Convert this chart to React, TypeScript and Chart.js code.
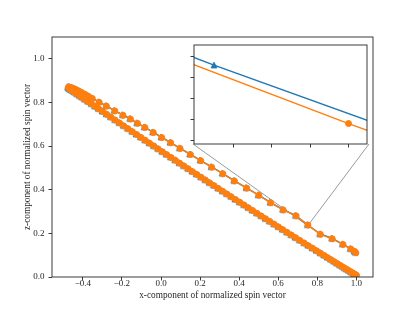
import { useEffect, useRef } from 'react';
import { Chart, registerables } from 'chart.js';

Chart.register(...registerables);

// ---------------- data ----------------
const BLUE_X = [
  0.997, 0.993, 0.988, 0.982, 0.975, 0.967, 0.958, 0.948, 0.937, 0.925,
  0.912, 0.898, 0.883, 0.867, 0.850, 0.832, 0.813, 0.793, 0.772, 0.751,
  0.730, 0.708, 0.686, 0.664, 0.642, 0.620, 0.598, 0.576, 0.554, 0.532,
  0.510, 0.488, 0.466, 0.444, 0.422, 0.400, 0.378, 0.356, 0.334, 0.312,
  0.290, 0.268, 0.246, 0.224, 0.202, 0.180, 0.158, 0.136, 0.114, 0.092,
  0.070, 0.048, 0.026, 0.004, -0.018, -0.040, -0.062, -0.084, -0.106, -0.128,
  -0.150, -0.172, -0.194, -0.216, -0.238, -0.260, -0.281, -0.302, -0.322, -0.341,
  -0.359, -0.376, -0.392, -0.407, -0.420, -0.432, -0.443, -0.452, -0.459, -0.465,
  -0.469, -0.472,
  -0.476, -0.478, -0.475, -0.470, -0.462, -0.452, -0.440, -0.426, -0.410, -0.393,
  -0.375, -0.355, -0.320, -0.283, -0.240, -0.198, -0.160, -0.124, -0.086, -0.043,
  0.000, 0.046, 0.094, 0.147, 0.200, 0.256, 0.313, 0.372, 0.435, 0.497,
  0.558, 0.622, 0.688, 0.7485, 0.812, 0.873, 0.928, 0.968, 0.988, 0.994,
];
const BLUE_Z = [
  0.0106, 0.0128, 0.0155, 0.0188, 0.0226, 0.0270, 0.0319, 0.0374, 0.0434, 0.0500,
  0.0572, 0.0649, 0.0731, 0.0819, 0.0913, 0.1013, 0.1118, 0.1229, 0.1346, 0.1462,
  0.1580, 0.1703, 0.1826, 0.1949, 0.2073, 0.2197, 0.2321, 0.2446, 0.2570, 0.2695,
  0.2820, 0.2946, 0.3071, 0.3197, 0.3323, 0.3450, 0.3577, 0.3704, 0.3831, 0.3958,
  0.4086, 0.4214, 0.4342, 0.4470, 0.4598, 0.4727, 0.4856, 0.4985, 0.5115, 0.5245,
  0.5375, 0.5505, 0.5635, 0.5766, 0.5897, 0.6028, 0.6160, 0.6291, 0.6423, 0.6556,
  0.6688, 0.6821, 0.6954, 0.7087, 0.7220, 0.7354, 0.7481, 0.7609, 0.7732, 0.7848,
  0.7958, 0.8063, 0.8160, 0.8253, 0.8333, 0.8407, 0.8475, 0.8530, 0.8574, 0.8611,
  0.8636, 0.8654,
  0.8690, 0.8718, 0.8730, 0.8725, 0.8705, 0.8672, 0.8625, 0.8563, 0.8488, 0.8403,
  0.8312, 0.8210, 0.8035, 0.7860, 0.7640, 0.7440, 0.7270, 0.7070, 0.6880, 0.6650,
  0.6420, 0.6180, 0.5920, 0.5640, 0.5360, 0.5060, 0.4760, 0.4430, 0.4100, 0.3770,
  0.3430, 0.3100, 0.2830, 0.2406, 0.1984, 0.1780, 0.1520, 0.1310, 0.1200, 0.1140,
];
const ORANGE_X = [
  1.0005, 0.9965, 0.9915, 0.9855, 0.9785, 0.9705, 0.9615, 0.9515, 0.9405, 0.9285,
  0.9155, 0.9015, 0.8865, 0.8705, 0.8535, 0.8355, 0.8165, 0.7965, 0.7755, 0.7545,
  0.7335, 0.7115, 0.6895, 0.6675, 0.6455, 0.6235, 0.6015, 0.5795, 0.5575, 0.5355,
  0.5135, 0.4915, 0.4695, 0.4475, 0.4255, 0.4035, 0.3815, 0.3595, 0.3375, 0.3155,
  0.2935, 0.2715, 0.2495, 0.2275, 0.2055, 0.1835, 0.1615, 0.1395, 0.1175, 0.0955,
  0.0735, 0.0515, 0.0295, 0.0075, -0.0145, -0.0365, -0.0585, -0.0805, -0.1025, -0.1245,
  -0.1465, -0.1685, -0.1905, -0.2125, -0.2345, -0.2565, -0.2775, -0.2985, -0.3185, -0.3375,
  -0.3555, -0.3725, -0.3885, -0.4035, -0.4165, -0.4285, -0.4395, -0.4485, -0.4555, -0.4615,
  -0.4655, -0.4685,
  -0.4725, -0.4745, -0.4715, -0.4665, -0.4585, -0.4485, -0.4365, -0.4225, -0.4065, -0.3895,
  -0.3715, -0.3515, -0.3165, -0.2795, -0.2365, -0.1945, -0.1565, -0.1205, -0.0825, -0.0395,
  0.0035, 0.0495, 0.0975, 0.1505, 0.2035, 0.2595, 0.3165, 0.3755, 0.4385, 0.5005,
  0.5615, 0.6255, 0.6915, 0.7520, 0.8155, 0.8765, 0.9315, 0.9715, 0.9915, 0.9975,
];
const ORANGE_Z = [
  0.0078, 0.0100, 0.0127, 0.0160, 0.0198, 0.0242, 0.0291, 0.0346, 0.0406, 0.0472,
  0.0544, 0.0621, 0.0703, 0.0791, 0.0885, 0.0985, 0.1090, 0.1201, 0.1318, 0.1434,
  0.1552, 0.1675, 0.1798, 0.1921, 0.2045, 0.2169, 0.2293, 0.2418, 0.2542, 0.2667,
  0.2792, 0.2918, 0.3043, 0.3169, 0.3295, 0.3422, 0.3549, 0.3676, 0.3803, 0.3930,
  0.4058, 0.4186, 0.4314, 0.4442, 0.4570, 0.4699, 0.4828, 0.4957, 0.5087, 0.5217,
  0.5347, 0.5477, 0.5607, 0.5738, 0.5869, 0.6000, 0.6132, 0.6263, 0.6395, 0.6528,
  0.6660, 0.6793, 0.6926, 0.7059, 0.7192, 0.7326, 0.7453, 0.7581, 0.7704, 0.7820,
  0.7930, 0.8035, 0.8132, 0.8225, 0.8305, 0.8379, 0.8447, 0.8502, 0.8546, 0.8583,
  0.8608, 0.8626,
  0.8662, 0.8690, 0.8702, 0.8697, 0.8677, 0.8644, 0.8597, 0.8535, 0.8460, 0.8375,
  0.8284, 0.8182, 0.8007, 0.7832, 0.7612, 0.7412, 0.7242, 0.7042, 0.6852, 0.6622,
  0.6392, 0.6152, 0.5892, 0.5612, 0.5332, 0.5032, 0.4732, 0.4402, 0.4072, 0.3742,
  0.3402, 0.3072, 0.2802, 0.2378, 0.1956, 0.1752, 0.1492, 0.1282, 0.1172, 0.1112,
];

const X_TICKS = [-0.4, -0.2, 0.0, 0.2, 0.4, 0.6, 0.8, 1.0];
const Y_TICKS = [0.0, 0.2, 0.4, 0.6, 0.8, 1.0];
const X_RANGE = [-0.558, 1.085];
const Y_RANGE = [0.0, 1.1];

const INSET_X_RANGE = [0.74798, 0.75248];
const INSET_Y_RANGE = [0.23682, 0.24156];
const INSET_X_TICKS = [0.749, 0.750, 0.751, 0.752];
const INSET_Y_TICKS = [0.237, 0.238, 0.239, 0.240, 0.241];

const X_LABEL = 'x-component of normalized spin vector';
const Y_LABEL = 'z-component of normalized spin vector';

// ---------------- layout / style ----------------
const W = 415;
const H = 311;
const MAIN = { left: 52, top: 37, right: 373, bottom: 277 };
const INSET = { left: 193, top: 42, right: 369, bottom: 144 };
const INSET_CANVAS = { left: 189, top: 40, width: 183, height: 109 };
const BLUE = '#1f77b4';
const ORANGE = '#ff7f0e';
const INK = '#262626';
const SERIF = "'Liberation Serif', 'DejaVu Serif', serif";

const fmt = (v: number) => (v < -1e-9 ? '\u2212' : '') + Math.abs(v).toFixed(1);

function makeTriangle(color: string) {
  const c = document.createElement('canvas');
  c.width = 12;
  c.height = 12;
  const ctx = c.getContext('2d')!;
  ctx.fillStyle = color;
  ctx.strokeStyle = color;
  ctx.lineWidth = 0.9;
  ctx.beginPath();
  ctx.moveTo(6, 3.1);
  ctx.lineTo(3.1, 8.9);
  ctx.lineTo(8.9, 8.9);
  ctx.closePath();
  ctx.fill();
  ctx.stroke();
  return c;
}

const framePlugin = {
  id: 'frame',
  afterDatasetsDraw(chart: any) {
    const { ctx, chartArea: a } = chart;
    ctx.save();
    ctx.strokeStyle = INK;
    ctx.lineWidth = 0.9;
    ctx.strokeRect(a.left, a.top, a.right - a.left, a.bottom - a.top);
    ctx.restore();
  },
};

const whiteBgPlugin = {
  id: 'whiteBg',
  beforeDatasetsDraw(chart: any) {
    const { ctx, chartArea: a } = chart;
    ctx.save();
    ctx.fillStyle = '#ffffff';
    ctx.fillRect(a.left, a.top, a.right - a.left, a.bottom - a.top);
    ctx.restore();
  },
};

const connectorPlugin = {
  id: 'connector',
  beforeDatasetsDraw(chart: any) {
    const { ctx } = chart;
    const xs = chart.scales.x;
    const ys = chart.scales.y;
    const x0 = xs.getPixelForValue(INSET_X_RANGE[0]);
    const x1 = xs.getPixelForValue(INSET_X_RANGE[1]);
    const y0 = ys.getPixelForValue(INSET_Y_RANGE[0]);
    const y1 = ys.getPixelForValue(INSET_Y_RANGE[1]);
    ctx.save();
    ctx.strokeStyle = '#808080';
    ctx.lineWidth = 0.8;
    ctx.strokeRect(x0, y1, x1 - x0, y0 - y1);
    ctx.beginPath();
    ctx.moveTo(INSET.left, INSET.bottom);
    ctx.lineTo(x0, y0);
    ctx.moveTo(INSET.right, INSET.bottom);
    ctx.lineTo(x1, y0);
    ctx.stroke();
    ctx.restore();
  },
};

function buildDatasets(tri: HTMLCanvasElement) {
  return [
    {
      label: 'orange',
      data: ORANGE_X.map((x, i) => ({ x, y: ORANGE_Z[i] })),
      showLine: true,
      borderColor: ORANGE,
      borderWidth: 1.4,
      pointStyle: 'circle',
      pointRadius: 3.0,
      pointBorderWidth: 1.0,
      pointBackgroundColor: ORANGE,
      pointBorderColor: ORANGE,
    },
    {
      label: 'blue',
      data: BLUE_X.map((x, i) => ({ x, y: BLUE_Z[i] })),
      showLine: true,
      borderColor: BLUE,
      borderWidth: 1.4,
      pointStyle: tri,
      pointRadius: 3,
      pointBorderWidth: 0,
      pointBackgroundColor: BLUE,
      pointBorderColor: BLUE,
    },
  ];
}

const tickGrid = {
  drawOnChartArea: false,
  drawTicks: true,
  tickLength: 3.5,
  tickColor: INK,
  tickWidth: 0.9,
};

export default function App() {
  const mainRef = useRef<HTMLCanvasElement>(null);
  const insetRef = useRef<HTMLCanvasElement>(null);

  useEffect(() => {
    const tri = makeTriangle(BLUE);
    const main = new Chart(mainRef.current!, {
      type: 'scatter',
      data: { datasets: buildDatasets(tri) as any },
      plugins: [connectorPlugin, framePlugin],
      options: {
        animation: false,
        responsive: false,
        devicePixelRatio: 1,
        events: [],
        layout: { padding: { left: 0, top: MAIN.top, right: W - MAIN.right, bottom: 0 } },
        plugins: { legend: { display: false }, tooltip: { enabled: false } },
        scales: {
          x: {
            type: 'linear',
            min: X_RANGE[0],
            max: X_RANGE[1],
            afterBuildTicks: (s: any) => { s.ticks = X_TICKS.map((value) => ({ value })); },
            afterFit: (s: any) => { s.height = H - MAIN.bottom; },
            grid: tickGrid,
            border: { display: false },
            ticks: {
              color: INK,
              font: { family: SERIF, size: 9 },
              padding: -1.9,
              maxRotation: 0,
              autoSkip: false,
              callback: (v: any) => fmt(Number(v)),
            },
            title: {
              display: true,
              text: X_LABEL,
              color: INK,
              font: { family: SERIF, size: 9.3 },
              padding: { top: 0, bottom: 9.9 },
            },
          },
          y: {
            type: 'linear',
            min: Y_RANGE[0],
            max: Y_RANGE[1],
            afterBuildTicks: (s: any) => { s.ticks = Y_TICKS.map((value) => ({ value })); },
            afterFit: (s: any) => { s.width = MAIN.left; },
            grid: tickGrid,
            border: { display: false },
            ticks: {
              color: INK,
              font: { family: SERIF, size: 9 },
              padding: 4,
              autoSkip: false,
              callback: (v: any) => fmt(Number(v)),
            },
            title: {
              display: true,
              text: Y_LABEL,
              color: INK,
              font: { family: SERIF, size: 9.3 },
              padding: { top: 21.7, bottom: 0 },
            },
          },
        },
      } as any,
    });

    const inset = new Chart(insetRef.current!, {
      type: 'scatter',
      data: { datasets: buildDatasets(tri) as any },
      plugins: [whiteBgPlugin, framePlugin],
      options: {
        animation: false,
        responsive: false,
        devicePixelRatio: 1,
        events: [],
        layout: {
          padding: {
            left: 0,
            top: INSET.top - INSET_CANVAS.top,
            right: INSET_CANVAS.left + INSET_CANVAS.width - INSET.right,
            bottom: 0,
          },
        },
        plugins: { legend: { display: false }, tooltip: { enabled: false } },
        scales: {
          x: {
            type: 'linear',
            min: INSET_X_RANGE[0],
            max: INSET_X_RANGE[1],
            afterBuildTicks: (s: any) => { s.ticks = INSET_X_TICKS.map((value) => ({ value })); },
            afterFit: (s: any) => { s.height = INSET_CANVAS.top + INSET_CANVAS.height - INSET.bottom; },
            grid: tickGrid,
            border: { display: false },
            ticks: { display: false },
          },
          y: {
            type: 'linear',
            min: INSET_Y_RANGE[0],
            max: INSET_Y_RANGE[1],
            afterBuildTicks: (s: any) => { s.ticks = INSET_Y_TICKS.map((value) => ({ value })); },
            afterFit: (s: any) => { s.width = INSET.left - INSET_CANVAS.left; },
            grid: tickGrid,
            border: { display: false },
            ticks: { display: false },
          },
        },
      } as any,
    });

    return () => {
      main.destroy();
      inset.destroy();
    };
  }, []);

  return (
    <div style={{ position: 'fixed', left: 0, top: 0, width: W, height: H, background: '#ffffff' }}>
      <canvas
        ref={mainRef}
        width={W}
        height={H}
        style={{ position: 'absolute', left: 0, top: 0, width: W, height: H }}
      />
      <canvas
        ref={insetRef}
        width={INSET_CANVAS.width}
        height={INSET_CANVAS.height}
        style={{
          position: 'absolute',
          left: INSET_CANVAS.left,
          top: INSET_CANVAS.top,
          width: INSET_CANVAS.width,
          height: INSET_CANVAS.height,
        }}
      />
    </div>
  );
}
